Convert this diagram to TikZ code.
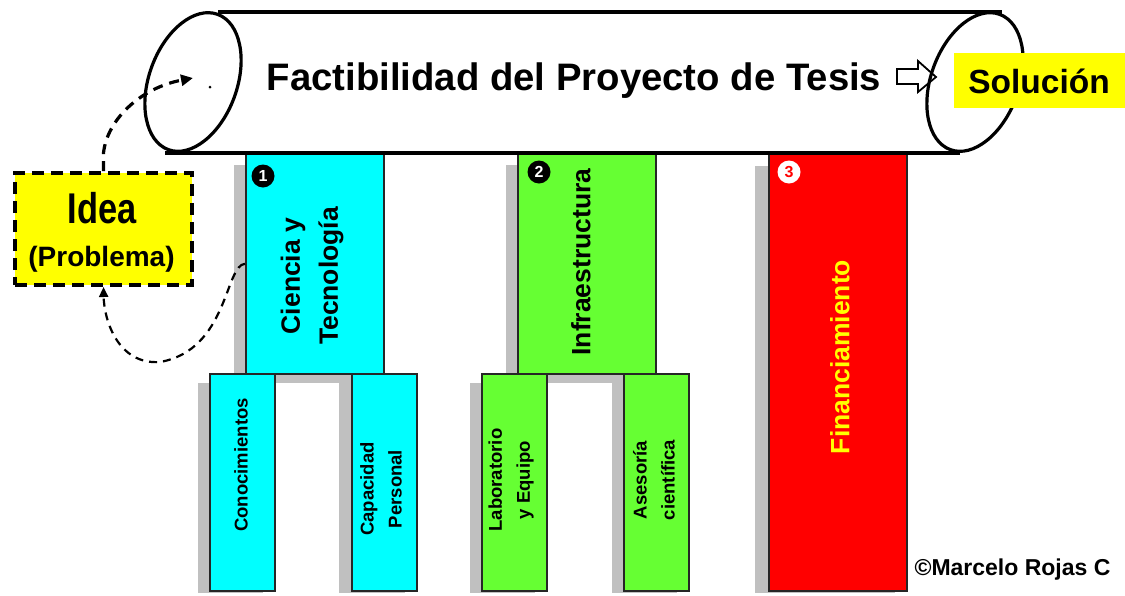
\documentclass[tikz,border=0pt]{standalone}
\usepackage{graphicx}
\usepackage{fontspec}
\setmainfont{Liberation Sans}
\usetikzlibrary{arrows.meta}
\definecolor{cyanb}{HTML}{00FFFF}
\definecolor{greenb}{HTML}{66FF33}
\definecolor{redb}{HTML}{FF0000}
\definecolor{yel}{HTML}{FFFF00}
\definecolor{shad}{HTML}{C0C0C0}
\begin{document}
\begin{tikzpicture}[x=1pt,y=-1pt,
  colbox/.style={draw=black!85, line width=1.5pt, inner sep=0pt, anchor=north west},
  vtext/.style={rotate=90, align=center, font=\bfseries\fontsize{18.5}{28}\selectfont},
  bigv/.style={rotate=90, align=center, font=\bfseries\fontsize{26.5}{38}\selectfont},
  numc/.style={circle, inner sep=0pt, minimum size=23pt, font=\bfseries\fontsize{16}{16}\selectfont},
  cyl/.style={line width=3.2pt},
  flowA/.style={line width=3.2pt, dash pattern=on 10pt off 7pt, -{Triangle[length=12pt,width=11pt]}},
  flowB/.style={line width=2.2pt, dash pattern=on 8pt off 6pt, -{Triangle[length=10pt,width=9pt]}}]
\useasboundingbox (0,0) rectangle (1125,595);
\fill[white] (0,0) rectangle (1125,595);

% shadows
\fill[shad] (234,165) rectangle (372,383);
\fill[shad] (506,165) rectangle (644,383);
\fill[shad] (755,166) rectangle (895,593);
\fill[shad] (198,383) rectangle (263,593);
\fill[shad] (339,383) rectangle (405,593);
\fill[shad] (470,383) rectangle (535,593);
\fill[shad] (612,383) rectangle (677,593);

% main columns
\node[colbox, fill=cyanb, minimum width=138pt, minimum height=220pt] (c1) at (245,153) {};
\node[colbox, fill=greenb, minimum width=138pt, minimum height=220pt] (c2) at (517,153) {};
\node[colbox, fill=redb, minimum width=138pt, minimum height=437pt] (c3) at (768,153) {};

% sub columns
\node[colbox, fill=cyanb, minimum width=65pt, minimum height=217pt] (s1) at (209,373) {};
\node[colbox, fill=cyanb, minimum width=65pt, minimum height=217pt] (s2) at (351,373) {};
\node[colbox, fill=greenb, minimum width=65pt, minimum height=217pt] (s3) at (481,373) {};
\node[colbox, fill=greenb, minimum width=65pt, minimum height=217pt] (s4) at (623,373) {};

% column texts
\node[bigv] (t1) at (312,276) {Ciencia y\\Tecnología};
\node[bigv] (t2) at (581,262) {Infraestructura};
\node[bigv, text=yel] (t3) at (840,357) {Financiamiento};
\node[vtext] (u1) at (241,465) {Conocimientos};
\node[vtext] (u2) at (381,489) {Capacidad\\Personal};
\node[vtext] (u3) at (511,480) {Laboratorio\\y Equipo};
\node[vtext] (u4) at (654,480) {Asesoría\\científica};

% numbers
\node[numc, fill=black, text=white] (n1) at (263,176) {1};
\node[numc, fill=black, text=white] (n2) at (539,172) {2};
\node[numc, fill=white, text=redb] (n3) at (789,172) {3};

% cylinder
\draw[cyl] (218,12) -- (1002,12);
\draw[cyl] (165,153) -- (960,153);
\draw[cyl, rotate around={-20:(193,82)}] (193,82) ellipse [x radius=44, y radius=72];
\node[font=\bfseries\fontsize{38.3}{40}\selectfont, anchor=base] (title) at (574,90) {Factibilidad del Proyecto de Tesis};
\draw[line width=1.8pt, fill=white] (897,69) -- (918,69) -- (918,61) -- (936,77) -- (918,92) -- (918,84) -- (897,84) -- cycle;
\draw[cyl, rotate around={-20:(975,82)}] (975,82) ellipse [x radius=44, y radius=72];

% solution
\node[fill=yel, inner sep=0pt, minimum width=172pt, minimum height=55pt, anchor=north west] (sol) at (954,53) {};
\node[font=\bfseries\fontsize{33.5}{36}\selectfont, anchor=base] (soltext) at (1039,93) {Solución};

% idea box
\node[draw, fill=yel, line width=4pt, dash pattern=on 12pt off 7pt, inner sep=0pt, minimum width=177pt, minimum height=112pt] (idea) at (103.5,229) {};
\node[anchor=base, font=\bfseries\fontsize{43}{43}\selectfont] (ideat) at (102,223) {\scalebox{0.8}[1]{Idea}};
\node[anchor=base, font=\bfseries\fontsize{28}{28}\selectfont] (probt) at (101.5,266) {(Problema)};

% connectors
\coordinate (inlet) at (193,78);
\draw[flowA] (idea.north) -- ++(0,-18) .. controls (107,120) and (140,88) .. (inlet);
\fill (210,87) circle (1.5pt);
\draw[flowB] (c1.west) .. controls (225,265) and (228,350) .. (160,362) .. controls (118,365) and (104,320) .. (idea.south);

% copyright
\node[anchor=base, font=\bfseries\fontsize{23}{24}\selectfont] (copy) at (1012.5,575) {©Marcelo Rojas C};
\end{tikzpicture}
\end{document}
